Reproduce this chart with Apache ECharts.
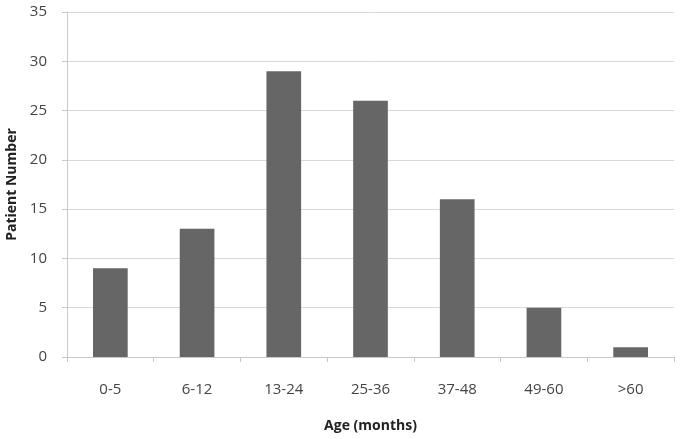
<!DOCTYPE html>
<html>
<head>
<meta charset="utf-8">
<script src="https://cdn.jsdelivr.net/npm/echarts@6/dist/echarts.min.js"></script>
<style>
  html, body { margin: 0; padding: 0; background: #fff; }
  #chart { width: 681px; height: 439px; }
</style>
</head>
<body>
<div id="chart"></div>
<script>
const ageGroups = ['0-5', '6-12', '13-24', '25-36', '37-48', '49-60', '>60'];
const patientCounts = [9, 13, 29, 26, 16, 5, 1];

var myChart = echarts.init(document.getElementById('chart'));
option = {
  animation: false,
  grid: {
    left: 67,
    right: 7,
    top: 12,
    bottom: 82,
    outerBoundsMode: 'none'
  },
  xAxis: {
    type: 'category',
    data: ageGroups,
    name: 'Age (months)',
    nameLocation: 'middle',
    nameGap: 62,
    nameTextStyle: {
      fontFamily: 'Open Sans',
      fontSize: 14,
      fontWeight: 'bold',
      color: '#222'
    },
    axisLine: { lineStyle: { color: '#c8c8c8', width: 1 } },
    axisTick: { show: true, length: 5, lineStyle: { color: '#c8c8c8' } },
    axisLabel: {
      fontFamily: 'Open Sans',
      fontSize: 15,
      color: '#444',
      margin: 25
    }
  },
  yAxis: {
    type: 'value',
    min: 0,
    max: 35,
    interval: 5,
    name: 'Patient Number',
    nameLocation: 'middle',
    nameGap: 48,
    nameTextStyle: {
      fontFamily: 'Open Sans',
      fontSize: 14,
      fontWeight: 'bold',
      color: '#222'
    },
    axisLine: { show: true, lineStyle: { color: '#c8c8c8', width: 1 } },
    axisTick: { show: true, length: 5, lineStyle: { color: '#c8c8c8' } },
    splitLine: { lineStyle: { color: '#d8d8d8', width: 1 } },
    axisLabel: {
      fontFamily: 'Open Sans',
      fontSize: 15,
      color: '#444',
      margin: 20
    }
  },
  series: [
    {
      type: 'bar',
      data: patientCounts,
      barWidth: '40%',
      itemStyle: { color: '#666666' }
    }
  ]
};
myChart.setOption(option);
</script>
</body>
</html>
